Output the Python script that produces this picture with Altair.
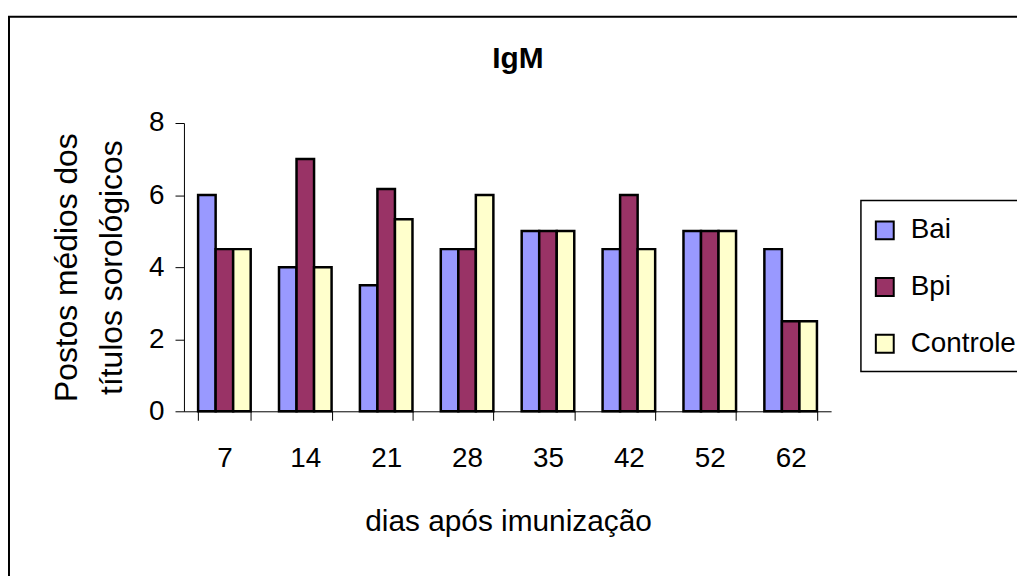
import altair as alt
import pandas as pd

dias = ["7", "14", "21", "28", "35", "42", "52", "62"]
grupos = ["Bai", "Bpi", "Controle"]
bai = [6.0, 4.0, 3.5, 4.5, 5.0, 4.5, 5.0, 4.5]
bpi = [4.5, 7.0, 6.17, 4.5, 5.0, 6.0, 5.0, 2.5]
controle = [4.5, 4.0, 5.33, 6.0, 5.0, 4.5, 5.0, 2.5]
cores = ["#9999FF", "#993366", "#FFFFCC"]
y_ticks = [0, 2, 4, 6, 8]

rows = []
for g, vals in zip(grupos, [bai, bpi, controle]):
    for d, v in zip(dias, vals):
        rows.append({"dia": d, "grupo": g, "valor": v})
df = pd.DataFrame(rows)

FONT = "Liberation Sans"

bars = alt.Chart(df).mark_bar(stroke="black", strokeWidth=2.5).encode(
    x=alt.X(
        "dia:N",
        sort=dias,
        scale=alt.Scale(paddingInner=0.35, paddingOuter=0.175),
        axis=alt.Axis(
            title="dias após imunização",
            labelAngle=0,
            labelFontSize=28,
            labelPadding=25,
            tickSize=9,
            tickBand="extent",
            titleFontSize=30,
            titleFontWeight="normal",
            titleX=326,
            titleY=120,
            titleBaseline="alphabetic",
            titleAlign="center",
        ),
    ),
    xOffset=alt.XOffset("grupo:N", sort=grupos, scale=alt.Scale(paddingInner=0, paddingOuter=0)),
    y=alt.Y(
        "valor:Q",
        scale=alt.Scale(domain=[0, 8], nice=False),
        axis=alt.Axis(
            title=["Postos médios dos", "títulos sorológicos"],
            values=y_ticks,
            grid=False,
            labelFontSize=28,
            labelPadding=11,
            tickSize=9,
            titleFontSize=32,
            titleFontWeight="normal",
            titleAngle=270,
            titleX=-108,
            titleY=145,
            titleBaseline="alphabetic",
            titleAlign="center",
            titleLineHeight=45,
        ),
    ),
    color=alt.Color(
        "grupo:N",
        sort=grupos,
        scale=alt.Scale(domain=grupos, range=cores),
        legend=alt.Legend(
            title=None,
            orient="none",
            legendX=691,
            legendY=94,
            padding=0,
            symbolType="square",
            symbolSize=324,
            symbolStrokeColor="black",
            symbolStrokeWidth=2,
            symbolOpacity=1,
            labelFontSize=28,
            labelFont=FONT,
            labelColor="black",
            labelOffset=12,
            rowPadding=29,
        ),
    ),
)

titulo = alt.Chart(pd.DataFrame({"t": ["IgM"]})).mark_text(
    font=FONT, fontSize=30, fontWeight="bold", align="center", baseline="alphabetic", color="black"
).encode(text="t:N", x=alt.value(336), y=alt.value(-55))

caixa_legenda = alt.Chart(pd.DataFrame({"k": [1]})).mark_rect(
    fill="white", fillOpacity=0, stroke="black", strokeWidth=1.5
).encode(x=alt.value(681), x2=alt.value(900), y=alt.value(78), y2=alt.value(250))

borda = alt.Chart(pd.DataFrame({"k": [1]})).mark_rect(
    fill="white", fillOpacity=0, stroke="black", strokeWidth=2
).encode(x=alt.value(-176), x2=alt.value(900), y=alt.value(-107), y2=alt.value(500))

chart = alt.layer(bars, borda, caixa_legenda, titulo).properties(
    width=651,
    height=290,
    background="white",
    autosize=alt.AutoSizeParams(type="none"),
    padding={"left": 177, "top": 114, "right": 187, "bottom": 164},
).configure_view(stroke=None, strokeWidth=0).configure_axis(
    labelFont=FONT,
    titleFont=FONT,
    labelColor="black",
    titleColor="black",
    domainColor="black",
    tickColor="black",
    domainWidth=1,
    tickWidth=1,
)

chart.save("out.html", embed_options={"renderer": "svg", "actions": False})
